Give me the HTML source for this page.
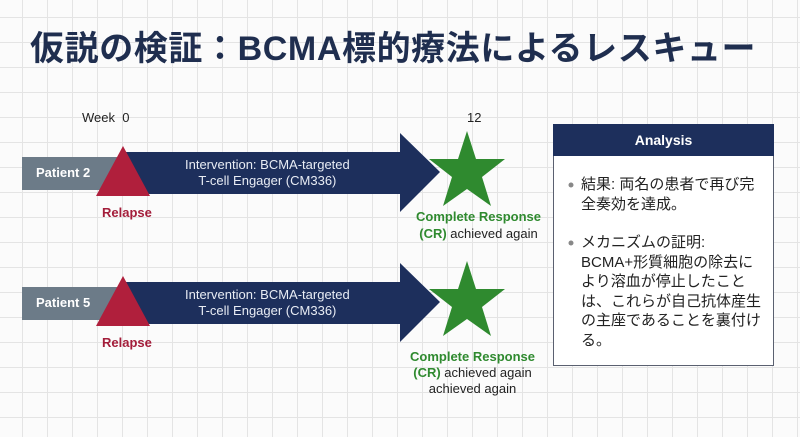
<!DOCTYPE html>
<html><head><meta charset="utf-8"><style>
body{margin:0;width:800px;height:437px;overflow:hidden;font-family:"Liberation Sans","Noto Sans CJK JP",sans-serif;
background-color:#fbfbfb;background-image:linear-gradient(#e4e4e4 1px,transparent 1px),linear-gradient(90deg,#e4e4e4 1px,transparent 1px);background-size:25px 25px;background-position:-3px -8px;position:relative}
.t{position:absolute;white-space:nowrap}
</style></head><body>
<div class="t" style="left:30px;top:21px;font-size:34px;font-weight:bold;color:#1f2e4f;letter-spacing:0.6px">仮説の検証：BCMA標的療法によるレスキュー</div>
<svg width="800" height="437" style="position:absolute;left:0;top:0">
<g id="r1">
<rect x="22" y="157" width="110" height="33" fill="#6c7b88"/>
<polygon points="125,152 400,152 400,133 440,172 400,212 400,194 125,194" fill="#1d2f5c"/>
<polygon points="123,146 96,196 150,196" fill="#b01f3c"/>
<polygon points="467,131 476,159 505,159 482,177 491,206 467,189 443,206 452,177 429,159 458,159" fill="#2f8a2f"/>
</g>
<g transform="translate(0,130)">
<rect x="22" y="157" width="110" height="33" fill="#6c7b88"/>
<polygon points="125,152 400,152 400,133 440,172 400,212 400,194 125,194" fill="#1d2f5c"/>
<polygon points="123,146 96,196 150,196" fill="#b01f3c"/>
<polygon points="467,131 476,159 505,159 482,177 491,206 467,189 443,206 452,177 429,159 458,159" fill="#2f8a2f"/>
</g>
<rect x="553.5" y="124.5" width="220" height="241" fill="#fff" stroke="#5a6070"/>
<rect x="553" y="124" width="221" height="32" fill="#1d2f5c"/>
<circle cx="571" cy="185" r="2.5" fill="#888"/>
<circle cx="571" cy="243" r="2.5" fill="#888"/>
</svg>
<div class="t" style="left:82px;top:110px;font-size:13px;color:#222">Week&nbsp;&nbsp;0</div>
<div class="t" style="left:467px;top:110px;font-size:13px;color:#222">12</div>
<div class="t" style="left:36px;top:165px;font-size:13px;font-weight:bold;color:#fff">Patient 2</div>
<div class="t" style="left:36px;top:295px;font-size:13px;font-weight:bold;color:#fff">Patient 5</div>
<div class="t" style="left:185px;top:157px;font-size:13px;color:#e8ecf4;text-align:center;line-height:16px">Intervention: BCMA-targeted<br>T-cell Engager (CM336)</div>
<div class="t" style="left:185px;top:287px;font-size:13px;color:#e8ecf4;text-align:center;line-height:16px">Intervention: BCMA-targeted<br>T-cell Engager (CM336)</div>
<div class="t" style="left:102px;top:205px;font-size:13px;font-weight:bold;color:#a31d3a">Relapse</div>
<div class="t" style="left:102px;top:335px;font-size:13px;font-weight:bold;color:#a31d3a">Relapse</div>
<div class="t" style="left:416px;top:208px;font-size:13px;line-height:17px;text-align:center;color:#222"><b style="color:#2f8a2f">Complete Response</b><br><b style="color:#2f8a2f">(CR)</b> achieved again</div>
<div class="t" style="left:410px;top:349px;font-size:13px;line-height:16px;text-align:center;color:#222"><b style="color:#2f8a2f">Complete Response</b><br><b style="color:#2f8a2f">(CR)</b> achieved again<br>achieved again</div>
<div class="t" style="left:553px;top:132px;width:221px;text-align:center;font-size:14px;font-weight:bold;color:#fff">Analysis</div>
<div class="t" style="left:581px;top:175px;font-size:15px;line-height:19.5px;color:#222">結果: 両名の患者で再び完<br>全奏効を達成。</div>
<div class="t" style="left:581px;top:233px;font-size:15px;line-height:19.5px;color:#222">メカニズムの証明:<br>BCMA+形質細胞の除去に<br>より溶血が停止したこと<br>は、これらが自己抗体産生<br>の主座であることを裏付け<br>る。</div>
</body></html>
